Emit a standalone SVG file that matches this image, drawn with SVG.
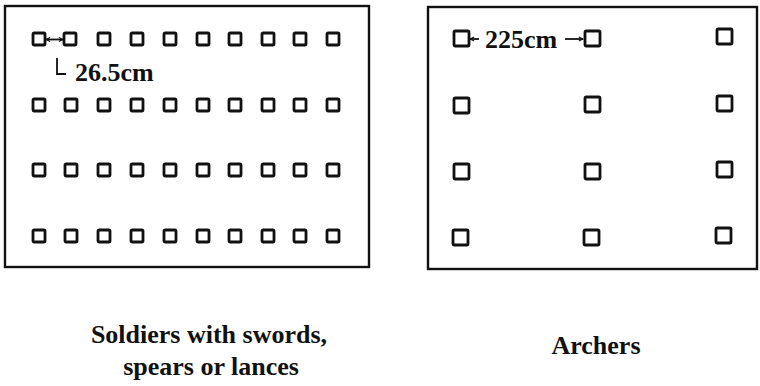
<svg xmlns="http://www.w3.org/2000/svg" xmlns:xlink="http://www.w3.org/1999/xlink" width="760" height="386" viewBox="0 0 760 386">
<style>
.frame{fill:none;stroke:#111;stroke-width:2.4}
.sq{fill:none;stroke:#111;stroke-width:2.8}
.lbl{font-family:"Liberation Serif","Times New Roman",serif;font-weight:bold;font-size:26px;fill:#111}
.cap{font-family:"Liberation Serif","Times New Roman",serif;font-weight:bold;font-size:26px;fill:#111;text-anchor:middle}
.ln{fill:none;stroke:#111;stroke-width:1.8}
</style>
<defs>
<rect id="s" x="0" y="0" width="12" height="12" rx="1.2"/>
<rect id="b" x="0" y="0" width="15" height="15" rx="1.2"/>
<marker id="ah" viewBox="0 0 8 8" refX="7" refY="4" markerWidth="5.5" markerHeight="5.5" orient="auto-start-reverse" markerUnits="userSpaceOnUse">
<path d="M1,1 L7,4 L1,7" fill="none" stroke="#111" stroke-width="1.6"/>
</marker>
</defs>
<rect width="760" height="386" fill="#fff"/>

<g id="soldiers">
<rect class="frame" x="5" y="6" width="364" height="261"/>
<g class="sq">
<use xlink:href="#s" x="33" y="33"/><use xlink:href="#s" x="64" y="33"/><use xlink:href="#s" x="98" y="33"/><use xlink:href="#s" x="131" y="33"/><use xlink:href="#s" x="164" y="33"/><use xlink:href="#s" x="197" y="33"/><use xlink:href="#s" x="229" y="33"/><use xlink:href="#s" x="262" y="33"/><use xlink:href="#s" x="294" y="33"/><use xlink:href="#s" x="327" y="33"/>
<use xlink:href="#s" x="33" y="99"/><use xlink:href="#s" x="65" y="99"/><use xlink:href="#s" x="98" y="99"/><use xlink:href="#s" x="131" y="99"/><use xlink:href="#s" x="164" y="99"/><use xlink:href="#s" x="197" y="99"/><use xlink:href="#s" x="229" y="99"/><use xlink:href="#s" x="262" y="99"/><use xlink:href="#s" x="294" y="99"/><use xlink:href="#s" x="327" y="99"/>
<use xlink:href="#s" x="33" y="164"/><use xlink:href="#s" x="65" y="164"/><use xlink:href="#s" x="98" y="164"/><use xlink:href="#s" x="131" y="164"/><use xlink:href="#s" x="164" y="164"/><use xlink:href="#s" x="197" y="164"/><use xlink:href="#s" x="229" y="164"/><use xlink:href="#s" x="262" y="164"/><use xlink:href="#s" x="294" y="164"/><use xlink:href="#s" x="327" y="164"/>
<use xlink:href="#s" x="33" y="230"/><use xlink:href="#s" x="65" y="230"/><use xlink:href="#s" x="98" y="230"/><use xlink:href="#s" x="131" y="230"/><use xlink:href="#s" x="164" y="230"/><use xlink:href="#s" x="197" y="230"/><use xlink:href="#s" x="229" y="230"/><use xlink:href="#s" x="262" y="230"/><use xlink:href="#s" x="294" y="230"/><use xlink:href="#s" x="327" y="230"/>
</g>
<text class="lbl" x="75" y="81">26.5cm</text>
<text class="cap" x="209" y="343">Soldiers with swords,</text>
<text class="cap" x="211" y="375">spears or lances</text>
</g>

<g id="archers">
<rect class="frame" x="428" y="7" width="329" height="262" stroke-width="2.8"/>
<g class="sq">
<use xlink:href="#b" x="454" y="31"/><use xlink:href="#b" x="585" y="31"/><use xlink:href="#b" x="717" y="29"/>
<use xlink:href="#b" x="454" y="98"/><use xlink:href="#b" x="585" y="97"/><use xlink:href="#b" x="717" y="96"/>
<use xlink:href="#b" x="454" y="164"/><use xlink:href="#b" x="585" y="164"/><use xlink:href="#b" x="717" y="162"/>
<use xlink:href="#b" x="453" y="230"/><use xlink:href="#b" x="584" y="230"/><use xlink:href="#b" x="716" y="228"/>
</g>
<text class="lbl" x="485" y="48">225cm</text>
<text class="cap" x="596" y="354">Archers</text>
</g>

<g id="connectors">
<line class="ln" x1="46" y1="39.5" x2="63" y2="39.5" marker-start="url(#ah)" marker-end="url(#ah)"/>
<path class="ln" d="M57,58 V74 H66"/>
<line class="ln" x1="479" y1="39" x2="470" y2="39" marker-end="url(#ah)"/>
<line class="ln" x1="565" y1="39" x2="583" y2="39" marker-end="url(#ah)"/>
</g>
</svg>
